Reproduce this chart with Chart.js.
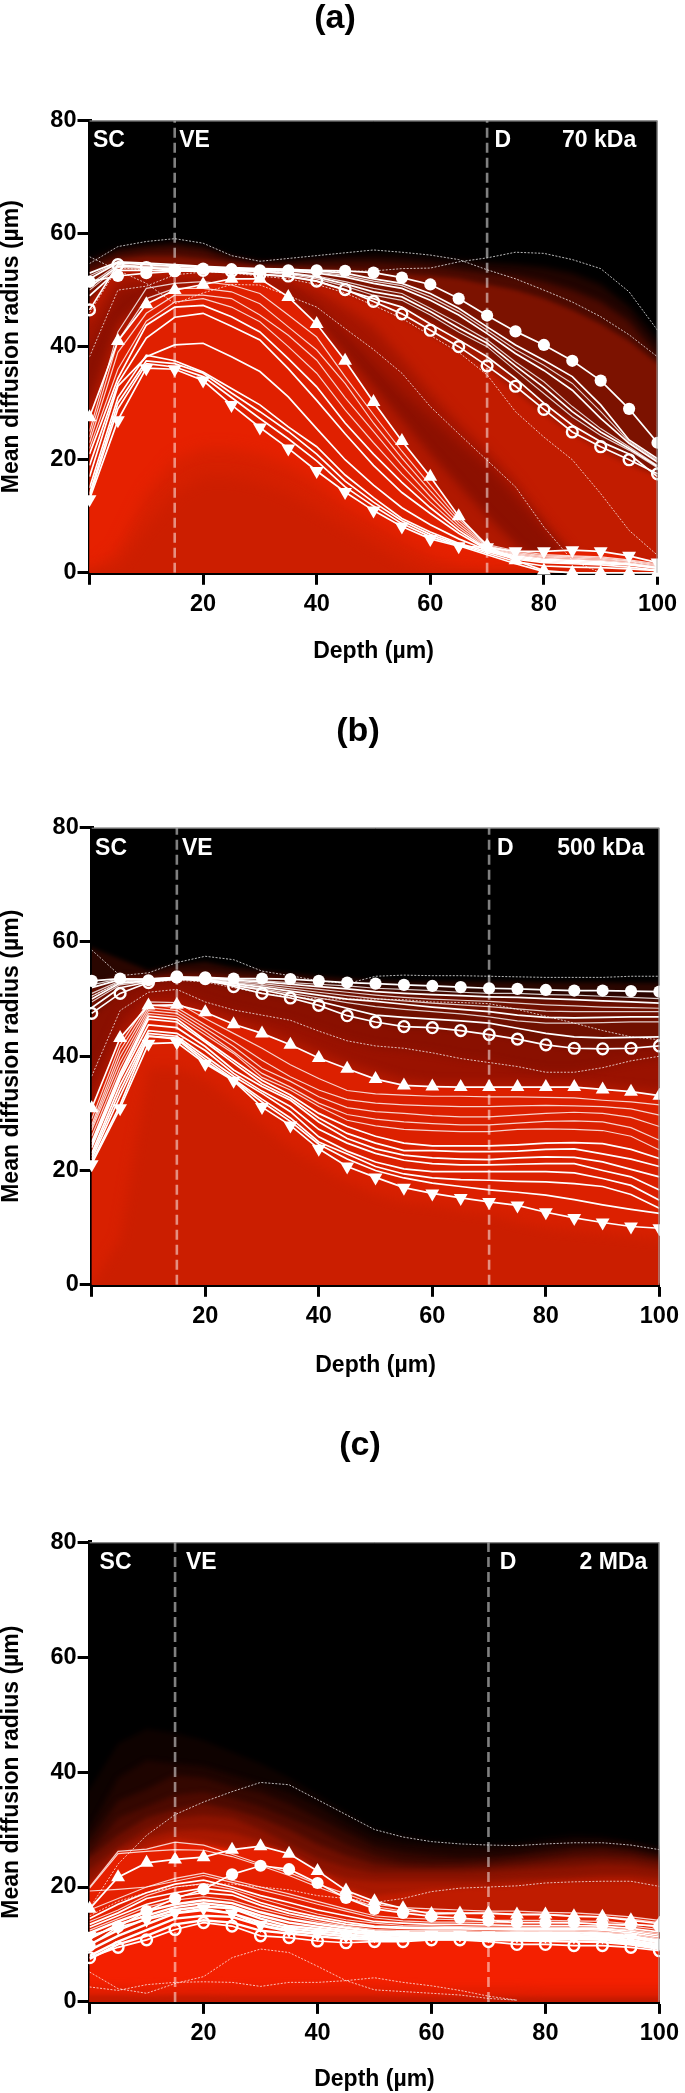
<!DOCTYPE html>
<html><head><meta charset="utf-8">
<style>html,body{margin:0;padding:0;background:#fff}body{position:relative;width:685px;height:2093px;overflow:hidden}canvas{position:absolute;left:0;display:block}</style>
<script src="https://cdn.jsdelivr.net/npm/chart.js@4"></script>
</head><body>
<canvas id="pa" width="685" height="690" style="top:0;width:685px;height:690px"></canvas>
<canvas id="pb" width="685" height="690" style="top:690px;width:685px;height:690px"></canvas>
<canvas id="pc" width="685" height="713" style="top:1380px;width:685px;height:713px"></canvas>
<script>
const depth=[0,5,10,15,20,25,30,35,40,45,50,55,60,65,70,75,80,85,90,95,100];
const boundaries=[15,70];
const xTicks=[20,40,60,80,100];

/* ---------- panel a: 70 kDa ---------- */
const a_filled=[51.5,52.5,53,53.3,53.8,53.7,53.5,53.5,53.5,53.4,53.1,52.2,51,48.5,45.5,42.7,40.3,37.5,34,29,23];
const a_open=[46.5,54.5,54,53.5,53.5,53.3,52.8,52.5,51.6,50.1,48,45.8,42.9,40,36.6,33,28.9,24.9,22.3,20,17.5];
const a_up=[27.5,41,47.5,50,51,52,52,48.8,44,37.5,30.2,23.3,17,10,4.8,2.2,0.4,0,0,0,0];
const a_down=[13,27,36.2,36,34,29.7,25.7,22,18,14.3,11,8.2,6,4.7,4.5,3.8,3.8,4,3.8,3,1.8];
const a_t1=[25,42.6,50.3,51.2,51.5,50.9,49.4,45.6,41.7,34.7,28,21.5,15.5,9.5,5,3.9,3.2,3,2.8,2.3,1.6];
const a_t2=[24,41,48.5,50.3,50.3,49.7,47.6,43.5,39.4,33.5,26.5,20.3,14.5,9,4.8,3.6,3,2.8,2.6,2.1,1.4];
const a_t3=[23,39,45.9,49.1,49.1,48.5,45.6,42,37.6,31,25,19,13.5,8.5,4.6,3.4,2.8,2.6,2.4,2,1.2];
const a_t4=[22,36,44.5,47.9,48.5,47,44.4,40,35.3,28.8,23,17.5,12.5,8,4.4,3.2,2.6,2.4,2.2,1.8,1];
const a_t5=[21,34.4,43.8,47,47.3,45.3,42.6,37.9,32.9,26.5,21,16,11.5,7.5,4.2,3,2.4,2.2,2,1.6,.9];
const a_t6=[19,33.5,41.5,45.2,45.9,43.6,41.2,36.1,30.5,24.6,19,14.2,10.5,7,4.1,2.8,2.2,2,1.8,1.5,.8];
const a_t7=[17,33,38.2,40.3,40.6,38.2,35.6,31.1,25.5,20,15.5,11.5,8.5,6,4,2.6,2,1.8,1.6,1.4,.8];
const a_d1=[15,31,38.5,37.5,35.5,32.6,29.7,25.8,22.3,17.3,13.3,9.6,7.2,5.2,3.8,2.4,1.8,1.6,1.4,1,.5];
const a_d2=[14,30,37.5,37,35.3,31.8,28.5,25,21,16.2,12.5,9.2,6.8,5,3.5,2,1.2,1,.9,.7,.4];
const a_d3=[13.5,29,37,36.4,34.7,31,27.3,23.7,19.8,15.2,11.8,8.7,6.4,4.8,3.2,1.6,.2,0,0,0,0];
const a_s1=[53,55,54.8,54.5,54.2,54,53.8,53.7,53.4,53,52,51.2,49.4,46.8,43.5,40.3,37.6,34.7,29.7,23.5,20.2];
const a_s2=[52.5,54.9,54.6,54.3,54.1,53.9,53.7,53.5,53.2,52.6,51.6,50.8,48.8,46.2,42.9,39.5,36.7,33.5,28.5,23.2,19.9];
const a_s3=[52,54.8,54.5,54.2,54,53.8,53.6,53.4,53,52.3,51.2,50.3,48.2,45.6,42.3,38.8,35.8,32.3,27.3,22.9,19.6];
const a_s4=[51,54.5,54.2,54,53.8,53.6,53.4,53.1,52.5,51.5,50.3,49.4,46.8,44.1,41.2,37.3,33.8,29.4,25.5,22.3,19];
const a_s5=[50.5,54.2,54,53.8,53.7,53.5,53.3,53,52.3,51.1,49.7,48.8,46.2,43.3,40.6,36.6,32.8,28.5,24.9,22,18.8];
const a_s6=[50,54,53.8,53.7,53.5,53.3,53.2,52.8,52,50.7,49.1,48.2,45.6,42.6,40,35.8,31.7,27.6,24.3,21.7,18.6];
const a_s7=[49,53.5,53.5,53.4,53.3,53.1,52.8,52.4,51.6,50,48.5,47,44,41.2,38.2,34.4,30,26.1,23.2,21,17];
const a_dash1=[54.7,57.7,58.6,59.1,58.3,56.1,55.1,55.6,56.1,56.6,57.1,56.7,56.2,55.4,53.6,52,50,47.9,45.3,42.1,38.2];
const a_dash2=[55.9,53.5,51.2,47.6,49.5,51,50.9,49,47,43.2,39.5,35.3,29.4,24.6,19.9,15.2,8.1,2.2,0,0,0];
const a_dash3=[38.2,50,50.7,52.7,53.2,53.4,53.4,53.3,53.3,53.3,53.4,53.8,53.9,55,55.7,56.7,56.5,55.4,53.8,49.7,42.9];
const a_dash4=[46,54,53.5,53.4,53.3,53,52.5,52,51,49.5,47.3,45,42,39,35,28.5,24,20,14,7.5,3.1];
const a_haze1=[55.5,57.3,58,58.5,57.8,56,55,55.2,55.6,56,56.2,56,55.6,55.2,54.8,54.5,54,53,51,47,41];
const a_haze2=[54.5,56.5,57.2,57.5,57,55.5,54.6,54.6,54.8,54.9,54.9,54.6,54.2,53.6,53,52.5,51.5,50,48,44.5,38.5];
const a_haze3=[53,55.5,56,56,55.5,54.8,54.2,54,53.8,53.6,53.3,52.8,52.5,52,51,50,48.5,46.5,44,41,37];
const a_haze4=[48,54,54,53.5,53.5,53.2,52.8,52.2,51.5,50,48.5,47,44.5,41.5,38.5,34,30,27,23,20,17.5];
const a_haze5=[47,54,54,53.3,53.3,53,52.5,52,51,49.5,47.5,45,42,39,36,32,28,24.5,21.5,19,17];
const a_haze6=[45,53,53,52.5,52.5,52.5,52.5,52,50,47,43.5,38,32,26.5,21.5,16,9,3,0,0,0];
const a_haze7=[40,50,51,51,51.5,52,52,50.5,47,42,37,32,27.5,23,19,13.5,8,2,0,0,0];
const a_haze8=[30,44,48.5,50.5,51.2,52,52,49.5,45,39,33,27,21,15.5,10,5,1,0,0,0,0];
const a_haze9=[27.5,41,47.5,50,51,52,52,48.8,44,37.5,30.2,23.3,17,10,4.8,3.4,3.2,3,2.8,2.3,1.6];
const a_haze10=[13,27,36.2,36,34,29.7,25.7,22,18,14.3,11,8.2,6,4.7,4.5,3.8,3.8,4,3.8,3,1.8];
const a_haze11=[0,4,14,20,22,22,21,19,16,12,9,6,3,1,0,0,0,0,0,0,0];
const a_haze12=[0,1,8,14,17,17,16,14,11,8,5,2,0,0,0,0,0,0,0,0,0];
const a_hazeColors=['#200400','#4c0a00','#7c1200','#a41800','#c21c00','#a41500','#8c1000','#b01800','#e02000','#e62100','#d62000','#cc1e00'];
const a_hazeBlur=[3,3,2,2,2,6,6,5,1,1,7,7];

/* ---------- panel b: 500 kDa ---------- */
const b_filled=[53.2,53.6,53.3,53.8,53.8,53.6,53.6,53.5,53.2,52.9,52.7,52.5,52.3,52.1,51.9,51.8,51.6,51.5,51.5,51.4,51.3];
const b_open=[47.5,51,52.9,53.9,53.6,52.2,51,50.2,48.9,47.1,46,45.2,45,44.5,43.8,43,42,41.4,41.3,41.4,41.8];
const b_up=[30.9,43.2,48.9,49,47.7,45.6,44,42,39.7,37.8,36,34.9,34.7,34.6,34.6,34.6,34.6,34.6,34.2,33.8,33.1];
const b_down=[21.1,30.9,42.2,42.4,38.7,35.7,31.1,27.9,23.8,20.7,18.8,17,16,15.2,14.5,13.9,12.7,11.7,10.9,10.2,9.9];
const b_t1=[29,42,49.5,49.4,46.6,44,41.4,38.5,36.1,34,33.4,33.2,33,33,32.9,32.9,32.8,32.7,32.3,32,31.5];
const b_t2=[28,41,49,48.5,45.5,42.6,39.3,36.4,34.1,32.4,31.8,31.5,31.3,31.2,31.2,31.3,31.4,31.3,31.2,30.8,29.7];
const b_t3=[27.5,40,48.5,48,44.9,41.7,37.9,35.6,32.9,31,30.3,30,29.6,29.4,29.4,29.7,30,30.2,30,29.3,27.7];
const b_t4=[27,39,48,47.5,44.3,40.8,37,34.6,31.8,29.8,29,28.5,28.2,28,28,28.3,28.6,28.7,28.5,27.5,25.3];
const b_t5=[26,38,47.5,47,43.7,40.5,36.3,34.1,31.2,28.8,27.8,27.2,27,26.8,26.8,27.2,27.3,27.2,27,26,23.6];
const b_t6=[25,37,47,46.5,42.8,39.3,35.8,33.2,30,27.7,26,24.8,24.3,24.3,24.3,24.5,24.8,24.9,24.7,23.7,22.1];
const b_t7=[24.5,36.5,46.5,46,42.5,38.8,35.2,32.7,29.2,26.5,24.8,23.5,23.5,23.3,23.3,23.4,23.7,23.8,22.9,22,20.7];
const b_t8=[24,36,45.5,45,41.7,37.6,34.7,32.3,28.5,25.6,23.8,22.7,22.2,22,21.9,22.2,22.4,22.3,21.5,20.2,18.9];
const b_t9=[23,35,44.5,44,41,37,33.9,31.2,27.2,24.8,23,21.8,21.2,21,21,21.1,21.2,21.2,20,18.9,16.6];
const b_t10=[22.5,34,44,43.5,40,36.5,33.5,30.3,25.9,23.4,21.5,20.3,19.8,19.8,19.8,19.8,19.8,19.6,18.6,17.4,14.8];
const b_t11=[22,33,43.5,43.2,39.5,36,32.5,29.2,25,22.9,20.7,19.4,18.7,18.4,18.3,18.1,18,17.7,17.2,15.8,13.4];
const b_t12=[21.5,31.5,43.5,43,39,35.8,32,28.6,24.6,22,20,18.7,17.8,17.2,16.6,16.2,15.7,14.9,14,13.2,12.5];
const b_s1=[52.5,53.6,53.6,53.8,53.8,53.5,53.2,52.9,52.6,52.3,51.9,51.7,51.5,51.2,51,51,50.8,50.7,50.5,50.3,50.1];
const b_s2=[52,53.4,53.5,53.8,53.7,53.3,53,52.6,52.2,51.8,51.3,51,50.8,50.6,50.4,50.3,50.1,49.9,49.7,49.5,49.3];
const b_s3=[51,53.2,53.4,53.7,53.6,53.1,52.7,52.2,51.7,51.2,50.7,50.3,50,49.8,49.6,49.3,49,48.8,48.6,48.5,48.4];
const b_s4=[50.5,53,53.3,53.7,53.5,52.9,52.4,51.8,51.2,50.6,50.1,49.7,49.3,49,48.7,48.3,47.9,47.8,47.8,47.8,47.8];
const b_s5=[50,52.8,53.2,53.6,53.4,52.7,52.1,51.4,50.7,50,49.6,49.1,48.6,48.2,47.8,47.2,46.8,46.7,46.8,46.9,46.9];
const b_s6=[49.5,52.5,53.1,53.6,53.3,52.5,51.8,51,50.2,49.4,48.7,48.2,47.8,47.4,46.9,46.2,45.8,45.8,45.9,46,46];
const b_s7=[48.5,52,53,53.5,53.2,52.4,51.6,50.6,49.6,48.4,47.2,46.8,46.5,46.2,45.8,44.9,44,43.4,43.2,43.3,43.4];
const b_dash1=[58.6,54.1,54.6,56.4,57.5,56.9,54.9,54.1,53.2,52.7,54,54.2,54.1,54.1,54,53.9,53.8,53.8,53.8,54,54];
const b_dash2=[36.5,48,51.2,51.7,49.5,48.1,47.2,46.3,44.4,42.7,41.8,41.4,40.6,39.6,38.9,38.2,37.2,37.2,38,39.2,40];
const b_dash3=[50.5,53,53,53.3,53,52,51,50.4,50,50,50,49.9,49.5,49.4,49.2,48.2,47,45.8,44.5,43.4,42.9];
const b_haze1=[59,57,55,56,56.5,55.5,55,54.5,54,53.6,53.2,53,53,53,53,53,52.9,52.9,52.9,52.8,52.8];
const b_haze2=[52,53.8,54,54.5,54.5,54,53.7,53.3,52.5,52,51.7,51.3,51,50.8,50.5,50.4,50.2,50,50,49.8,49.6];
const b_haze3=[47,51,53,53.5,53,52,51,50,49,47,46,45,45,44.5,44,43,42,41.5,41.3,41.5,42];
const b_haze4=[36,47,51,51.5,49.5,48,47,46,44.4,42.7,41.5,41,40.5,39.5,39,38,37.2,37.2,38,39,39.5];
const b_haze5=[32,44,49.5,49.5,48.5,46.5,45,43,41,39,37.5,36,35.5,35.5,35.5,35.5,35.5,35.5,35,34.5,34];
const b_haze6=[30.9,43.2,48.9,49,47.7,45.6,44,42,39.7,37.8,36,34.9,34.7,34.6,34.6,34.6,34.6,34.6,34.2,33.8,33.1];
const b_haze7=[21.1,30.9,42.2,42.4,38.7,35.7,31.1,27.9,23.8,20.7,18.8,17,16,15.2,14.5,13.9,12.7,11.7,10.9,10.2,9.9];
const b_haze8=[0,8,38,38,36,32,28,24,21,18,16,14.5,14,13,12.5,11,10,9.5,9,8.5,8];
const b_hazeColors=['#2a0600','#701000','#8a1000','#9a1200','#b01800','#dc2000','#d82000','#cb1e00'];
const b_hazeBlur=[2,3,3,5,4,1,1,6];

/* ---------- panel c: 2 MDa ---------- */
const c_up=[16.2,21.7,24.2,24.8,25.2,26.5,27.1,25.8,22.8,19.4,17.5,16.3,15.3,15.4,15.4,15.2,15.2,14.9,14.8,14.2,13.6];
const c_filled=[9.8,13.1,15.8,18,19.6,22.2,23.7,23.1,20.7,18.1,16.2,15.5,14.9,14.6,14.2,13.8,13.8,13.8,13.5,13.5,13.2];
const c_down=[11.5,13,14.3,15.5,16.3,15.4,13.4,12.5,11.8,11.5,11.6,11.7,11.7,11.7,11.6,11.5,11.5,11.4,11.4,11.2,10.3];
const c_open=[7.7,9.5,10.8,12.6,13.8,13.2,11.5,11.2,10.6,10.3,10.5,10.5,10.8,10.8,10.5,10,10,9.8,9.8,9.5,8.9];
const c_l1=[20,26.2,26.6,27.8,27.3,25.7,24,22.5,20.5,18.8,17,16.4,16.2,16,15.8,15.8,15.6,15.5,15.2,14.8,14.2];
const c_l2=[19.8,25.8,26.2,26.5,26.4,25.3,23.7,22,20,18.2,16.6,15.8,15.6,15.5,15.5,15.3,15.3,15,14.8,14.4,13.8];
const c_s1=[19.3,19.6,20,21.5,22.4,21.2,20,18.8,17.5,16.2,15,14.6,14.4,14.3,14.2,14.2,14.2,14.1,14,13.6,13];
const c_s2=[16,18,20,21,22,20.8,19.5,18.3,17,15.8,14.6,14.1,13.9,13.9,13.8,13.8,13.8,13.7,13.6,13.2,12.6];
const c_s3=[14.5,17,19,20.5,21.2,20,18.5,17.3,16,15,14,13.7,13.5,13.5,13.4,13.3,13.3,13.3,13.2,12.8,12.2];
const c_s4=[14,16,18.5,20,20.6,19.6,18,16.6,15.3,14.3,13.7,13.3,13.2,13.1,13,13,13,13,12.9,12.5,11.9];
const c_s5=[13.5,15.5,18,19,19.8,19.2,17.3,15.9,14.8,13.9,13.2,13,12.9,12.9,12.8,12.8,12.8,12.8,12.7,12.3,11.6];
const c_s6=[13,15,17,18.3,19,18.6,16.8,15.4,14.4,13.5,13,12.8,12.7,12.7,12.6,12.6,12.6,12.6,12.5,12,11.3];
const c_s7=[12.5,14.5,16.5,17.7,18.3,17.7,16.2,15,14,13.2,12.6,12.4,12.4,12.4,12.3,12.4,12.4,12.4,12.2,11.8,11];
const c_s8=[12,14,15.8,17,17.7,17.2,15.6,14.4,13.6,12.9,12.3,12.1,12.1,12.1,12,12.1,12.1,12.1,11.9,11.5,10.7];
const c_s9=[11,13.5,15,16.5,17.2,16.6,15,13.8,13.1,12.5,12,11.8,11.8,11.8,11.8,11.8,11.8,11.8,11.6,11.2,10.4];
const c_s10=[10,12.5,14.5,16,16.6,16.3,14.5,13.2,12.7,12.2,11.7,11.5,11.5,11.5,11.4,11.5,11.5,11.5,11.3,10.8,10];
const c_s11=[9,11.5,13.5,15.4,16,15.4,13.9,12.8,12.3,11.8,11.3,11.2,11.3,11.3,11.2,11.2,11.2,11.2,11,10.5,9.7];
const c_s12=[8,10.5,12.5,14.5,15,14.8,13.3,12.3,11.9,11.4,11,11,11.1,11.1,11,11,11,10.9,10.8,10.2,9.4];
const c_s13=[7.5,10,11.5,13.5,14.2,13.8,12.4,11.9,11.4,11,10.8,10.8,10.9,10.9,10.8,10.7,10.6,10.5,10.4,10,9.2];
const c_dash1=[16.3,24,29,32.6,34.8,36.6,38.2,37.8,35.2,32.6,30,28.7,27.9,27.5,27.3,27.2,27.5,27.7,27.7,27.3,26.5];
const c_dash2=[15,17.5,19,20,20.5,20.5,20,19.5,18.5,18,17.3,18,19.2,19.8,20,20.2,20.7,20.9,21,21,20.1];
const c_dash3=[5.2,2.3,1.5,3.2,4.4,7.7,9.2,8.6,6.2,3.7,2.1,1.8,1.5,1.2,.6,.3,null,null,null,null,null];
const c_dash4=[2.6,2,3,3.4,3.5,3.4,2.7,3.4,3.4,3.7,4.2,3.4,2.8,2,1,.3,null,null,null,null,null];
const c_haze1=[37,45,47.5,46.8,45.5,43.5,41.5,39,36,33,30,29,28,27.6,27.5,27.7,28.5,29,28.8,28,27];
const c_haze2=[30,39,42,41.5,41,39.5,38,36.3,34,31,28.5,27.5,27,26.8,26.8,27,27.5,28,28,27.5,26.5];
const c_haze3=[28,35,37,39.5,39,37.5,36.5,34.5,32,29.5,27,26,25.5,25.2,25.3,25.7,26.5,27,27,26.5,25.5];
const c_haze4=[26,32,34,36,36.5,35.5,34,32,30,27.5,25.5,24.5,24.2,24.2,24.5,25,25.5,26.2,26.5,26,25];
const c_haze5=[25,29,32,33.5,34.5,33.5,32,30,27.5,25.5,24,23.5,23.3,23.4,23.6,24,24.5,25,25.2,25,24.2];
const c_haze6=[23,27,30,32,32.5,32,30,27.5,25,23.5,22.5,22.5,22.5,22.5,22.7,23,23.3,23.6,24,23.8,23];
const c_haze7=[21,26,28.5,29.8,30,29.5,28,25.5,23,21.5,21,21,21,21,21,21.3,21.5,21.7,22,22,21.5];
const c_haze8=[20,25,27,28.5,28,27,27.5,26,23,20,18.5,19,19.5,19.8,20,20.2,20.7,20.9,21,21,20.1];
const c_haze9=[20,26.2,26.6,27.8,27.3,26.5,27.1,25.8,22.8,19.4,17.5,16.4,16.2,16,15.8,15.8,15.6,15.5,15.2,14.8,14.2];
const c_haze10=[7.7,10,13,15,16,15,13,12,11,10.8,10.8,10.8,10.9,10.9,10.8,10.7,10.6,10.5,10.4,10,9.2];
const c_haze11=[3,3,2.8,3,3.1,3,2.9,3,3,3,3,2.9,2.8,2.8,2.8,2.8,2.7,2.7,2.7,2.7,2.7];
const c_haze12=[1.2,1.2,1.1,1.2,1.2,1.1,1.1,1.1,1.1,1.1,1.1,1,1,1,1,1,.9,.9,.9,.9,.9];
const c_hazeColors=['#0e0200','#1e0400','#340700','#4d0a00','#6f0f00','#8c1300','#a81800','#c01c00','#e62000','#f42000','#e41e00','#c41a00'];
const c_hazeBlur=[2.5,2.5,2.5,2.5,2.5,2.5,2.5,2,1,1,3,2];

const FONT='"Liberation Sans", Arial, sans-serif';
const pts=v=>v.map((y,i)=>({x:depth[i],y}));
const solid=v=>({data:pts(v),borderColor:'#fff',borderWidth:1.7,pointRadius:0,fill:false,_blur:0});
const thick=v=>({data:pts(v),borderColor:'#fff',borderWidth:2.4,pointRadius:0,fill:false,_blur:0});
const thin=v=>({data:pts(v),borderColor:'rgba(255,255,255,.8)',borderWidth:1.2,pointRadius:0,fill:false,_blur:0});
const dashed=v=>({data:pts(v),borderColor:'rgba(255,255,255,.72)',borderWidth:1,borderDash:[2,1.5],pointRadius:0,fill:false,_blur:0});
const marker=(v,style)=>{
  const open=style==='open',tri=style==='up'||style==='down';
  return {data:pts(v),borderColor:'#fff',borderWidth:1.7,clip:false,fill:false,_blur:0,
    pointStyle:tri?'triangle':'circle',pointRotation:style==='down'?180:0,
    pointRadius:tri?8:(open?5.4:6.1),pointBackgroundColor:open?'rgba(0,0,0,0)':'#fff',
    pointBorderColor:'#fff',pointBorderWidth:open?2.4:0};
};
const haze=(v,c,b)=>({data:[{x:-5,y:v[0]},...pts(v),{x:105,y:v[20]}],borderWidth:0,borderColor:'rgba(0,0,0,0)',
  pointRadius:0,backgroundColor:c,fill:{value:-8},_blur:b});
const stack=(layers,colors,blurs)=>layers.map((v,i)=>haze(v,colors[i],blurs[i])).reverse();
const bound=d=>({data:[{x:d,y:0},{x:d,y:80}],borderColor:'rgba(255,255,255,.5)',borderWidth:2.6,borderDash:[10,5],pointRadius:0,fill:false,_blur:0});

const setBlur=(ch,i)=>{const d=ch.data.datasets[i];ch.ctx.filter=d&&d._blur?`blur(${d._blur}px)`:'none';};
const shading={id:'shading',
  beforeDatasetsDraw(ch){const c=ch.ctx,a=ch.chartArea;c.save();c.fillStyle='#000';c.fillRect(a.left,a.top,a.width,a.height);setBlur(ch,ch.data.datasets.length-1);},
  afterDatasetDraw(ch,args){setBlur(ch,args.index-1);},
  afterDatasetsDraw(ch){const c=ch.ctx,a=ch.chartArea;c.restore();
    c.save();c.strokeStyle='rgba(170,170,170,.9)';c.lineWidth=1;c.beginPath();c.moveTo(a.left,a.top+.5);c.lineTo(a.right-.5,a.top+.5);c.lineTo(a.right-.5,a.bottom);c.stroke();c.restore();}};

const labels={id:'labels',afterDraw(ch,_,o){const c=ch.ctx;c.save();c.textBaseline='alphabetic';c.textAlign='left';
    c.font='bold 23px '+FONT;c.fillStyle='#fff';
    o.texts.forEach((t,i)=>c.fillText(t,ch.scales.x.getPixelForValue(o.textX[i]),ch.scales.y.getPixelForValue(75.3)));
    c.font='bold 34px '+FONT;c.fillStyle='#000';c.textAlign='center';c.textBaseline='middle';c.fillText(o.panel,o.panelX,o.panelY);
    c.restore();}};

function panel(id,cfg){
  new Chart(document.getElementById(id),{type:'line',
    data:{datasets:cfg.datasets},
    plugins:[shading,labels],
    options:{responsive:false,animation:false,devicePixelRatio:1,parsing:{xAxisKey:'x',yAxisKey:'y'},
      layout:{padding:{top:cfg.top,right:685-cfg.right,bottom:0,left:0}},
      elements:{line:{tension:0}},
      plugins:{legend:{display:false},tooltip:{enabled:false},filler:{propagate:false},
        labels:{texts:cfg.texts,textX:cfg.textX,panel:cfg.panel,panelX:cfg.panelX,panelY:cfg.panelY}},
      scales:{
        x:{type:'linear',min:0,max:100,afterFit(s){s.height=cfg.h-cfg.bottom;},
          afterBuildTicks(s){s.ticks=[0,...xTicks].map(v=>({value:v}));},
          border:{color:'#000',width:4},
          grid:{drawOnChartArea:false,drawTicks:true,tickLength:12,tickWidth:3,tickColor:'#000',color:'#000'},
          ticks:{color:'#000',padding:6,maxRotation:0,autoSkip:false,font:{family:FONT,size:23.5,weight:'bold'},callback:v=>v===0?'':String(v)},
          title:{display:true,text:'Depth (µm)',color:'#000',font:{family:FONT,size:23,weight:'bold',lineHeight:1},padding:{top:0,bottom:cfg.xTitlePad}}},
        y:{type:'linear',min:0,max:80,afterFit(s){s.width=cfg.left;},
          border:{color:'#000',width:4},
          grid:{drawOnChartArea:false,drawTicks:true,tickLength:12,tickWidth:3,tickColor:'#000',color:'#000'},
          ticks:{color:'#000',padding:1,stepSize:20,font:{family:FONT,size:23.5,weight:'bold'}},
          title:{display:true,text:'Mean diffusion radius (µm)',color:'#000',font:{family:FONT,size:23,weight:'bold',lineHeight:1},padding:0}}
      }}});
}

panel('pa',{h:690,left:89.5,right:657.5,top:120.5,bottom:572.8,xTitlePad:27,
  panel:'(a)',panelX:335,panelY:19,texts:['SC','VE','D','70 kDa'],textX:[.6,15.8,71.3,83.2],
  datasets:[bound(15),bound(70),
    marker(a_filled,'filled'),marker(a_open,'open'),marker(a_up,'up'),marker(a_down,'down'),
    solid(a_s1),thin(a_s2),solid(a_s3),thin(a_s4),solid(a_s5),thin(a_s6),solid(a_s7),
    thin(a_t1),thin(a_t2),thin(a_t3),thin(a_t4),solid(a_t5),solid(a_t6),solid(a_t7),
    solid(a_d1),solid(a_d2),solid(a_d3),
    dashed(a_dash1),dashed(a_dash2),dashed(a_dash3),dashed(a_dash4),
    ...stack([a_haze1,a_haze2,a_haze3,a_haze4,a_haze5,a_haze6,a_haze7,a_haze8,a_haze9,a_haze10,a_haze11,a_haze12],a_hazeColors,a_hazeBlur)]});

panel('pb',{h:690,left:91.7,right:665,top:137.7,bottom:594.8,xTitlePad:3,
  panel:'(b)',panelX:358,panelY:42,texts:['SC','VE','D','500 kDa'],textX:[.6,15.9,71.4,82],
  datasets:[bound(15),bound(70),
    marker(b_filled,'filled'),marker(b_open,'open'),marker(b_up,'up'),marker(b_down,'down'),
    thin(b_s1),solid(b_s2),thin(b_s3),thin(b_s4),solid(b_s5),thin(b_s6),solid(b_s7),
    thin(b_t1),thin(b_t2),thin(b_t3),thin(b_t4),thin(b_t5),solid(b_t6),solid(b_t7),solid(b_t8),solid(b_t9),solid(b_t10),solid(b_t11),solid(b_t12),
    dashed(b_dash1),dashed(b_dash2),dashed(b_dash3),
    ...stack([b_haze1,b_haze2,b_haze3,b_haze4,b_haze5,b_haze6,b_haze7,b_haze8],b_hazeColors,b_hazeBlur)]});

panel('pc',{h:713,left:89.6,right:665.8,top:162.3,bottom:621.9,xTitlePad:1.5,
  panel:'(c)',panelX:360,panelY:66,texts:['SC','VE','D','2 MDa'],textX:[1.75,16.9,72,86],
  datasets:[bound(15),bound(70),
    marker(c_up,'up'),marker(c_filled,'filled'),marker(c_down,'down'),marker(c_open,'open'),
    thin(c_l1),thin(c_l2),thin(c_s1),thin(c_s2),solid(c_s3),thin(c_s4),solid(c_s5),solid(c_s6),thin(c_s7),thick(c_s8),thick(c_s9),thick(c_s10),thick(c_s11),thick(c_s12),thick(c_s13),
    dashed(c_dash1),dashed(c_dash2),dashed(c_dash3),dashed(c_dash4),
    ...stack([c_haze1,c_haze2,c_haze3,c_haze4,c_haze5,c_haze6,c_haze7,c_haze8,c_haze9,c_haze10,c_haze11,c_haze12],c_hazeColors,c_hazeBlur)]});
</script>
</body></html>
